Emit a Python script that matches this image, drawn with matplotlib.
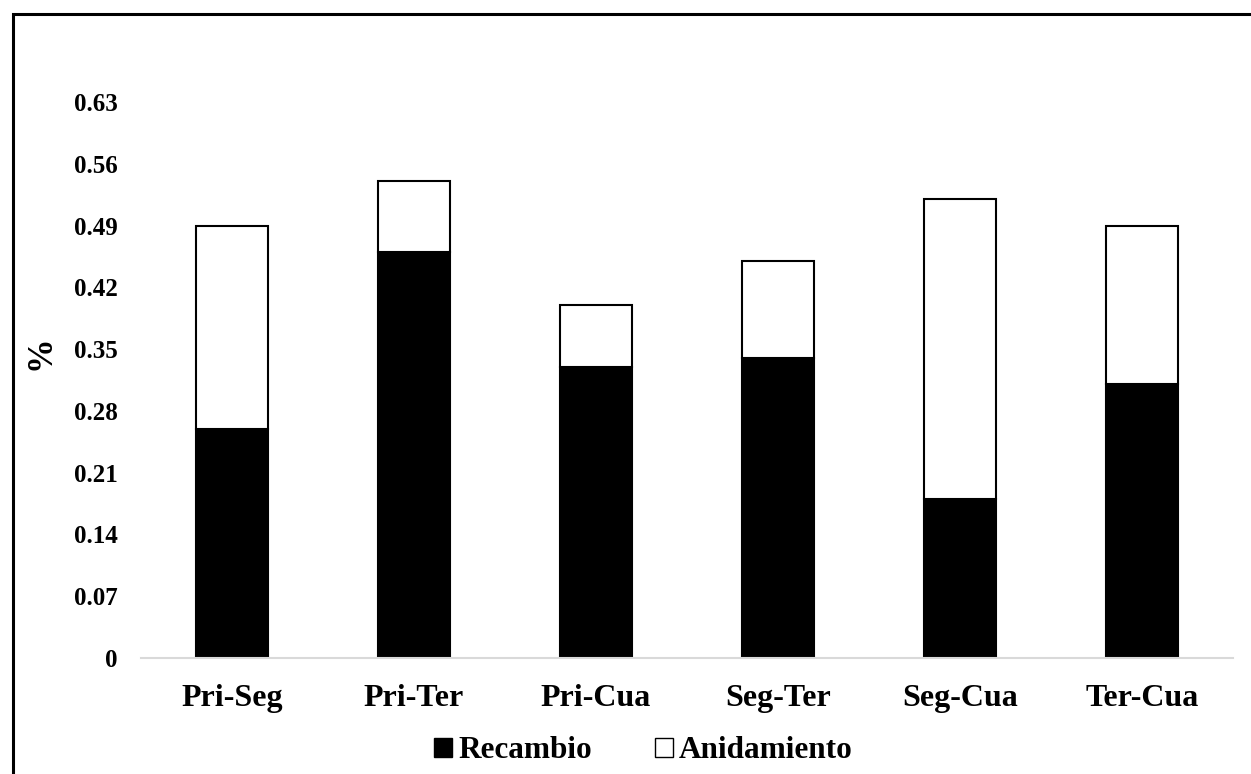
import numpy as np
import matplotlib
matplotlib.use('Agg')
import matplotlib.pyplot as plt
from matplotlib.patches import Rectangle, Patch

plt.rcParams['font.family'] = ['Liberation Serif', 'DejaVu Serif']
plt.rcParams['font.weight'] = 'bold'

# Datos
categorias = ['Pri-Seg', 'Pri-Ter', 'Pri-Cua', 'Seg-Ter', 'Seg-Cua', 'Ter-Cua']
recambio = [0.26, 0.46, 0.33, 0.34, 0.18, 0.31]
anidamiento = [0.23, 0.08, 0.07, 0.11, 0.34, 0.18]
yticks = [0, 0.07, 0.14, 0.21, 0.28, 0.35, 0.42, 0.49, 0.56, 0.63]
ytick_labels = ['0', '0.07', '0.14', '0.21', '0.28', '0.35', '0.42', '0.49', '0.56', '0.63']

fig = plt.figure(figsize=(12.51, 7.74), dpi=100)
ax = fig.add_axes([0.1127, 0.1499, 0.8729, 0.7183])

x = np.arange(len(categorias))
ax.bar(x, recambio, width=0.4, color='black', edgecolor='black', linewidth=1.5)
ax.bar(x, anidamiento, width=0.4, bottom=recambio, color='white',
       edgecolor='black', linewidth=1.5)

ax.set_xlim(-0.5, len(categorias) - 0.5)
ax.set_ylim(0, 0.63)
ax.set_yticks(yticks)
ax.set_yticklabels(ytick_labels, fontsize=18, fontweight='bold')
ax.set_xticks(x)
ax.set_xticklabels(categorias, fontsize=23, fontweight='bold')
ax.tick_params(axis='both', length=0)
ax.tick_params(axis='y', pad=17)
ax.tick_params(axis='x', pad=19)

for s in ['top', 'right', 'left']:
    ax.spines[s].set_visible(False)
ax.spines['bottom'].set_color('#d9d9d9')
ax.spines['bottom'].set_linewidth(1.5)

ax.set_ylabel('%', fontsize=25, fontweight='bold')
ax.yaxis.set_label_coords(-0.076, 0.55)

handles = [Patch(facecolor='black', edgecolor='black', label='Recambio'),
           Patch(facecolor='white', edgecolor='black', label='Anidamiento')]
fig.legend(handles=handles, loc='center', bbox_to_anchor=(0.5144, 1 - 751 / 774),
           ncol=2, frameon=False, prop={'size': 22.5, 'weight': 'bold'},
           handlelength=0.57, handleheight=0.57, handletextpad=0.2,
           columnspacing=2.0, borderaxespad=0)

# Marco exterior
fig.patches.append(Rectangle((13 / 1251, -0.05), 1.1, (1 - 14 / 774) + 0.05,
                             transform=fig.transFigure, fill=False,
                             edgecolor='black', linewidth=2.2))

plt.savefig('out.png', dpi=100)
